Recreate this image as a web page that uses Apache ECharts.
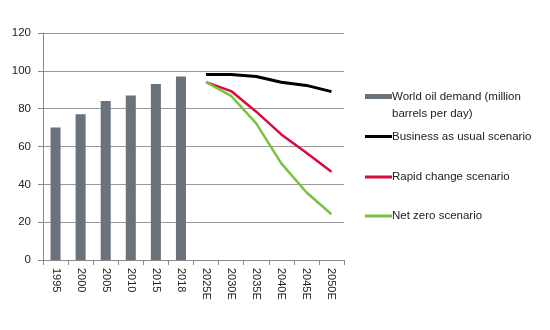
<!DOCTYPE html>
<html><head><meta charset="utf-8">
<script src="https://cdn.jsdelivr.net/npm/echarts@6/dist/echarts.min.js"></script>
<style>html,body{margin:0;padding:0;background:#fff}#c{width:550px;height:330px}</style>
</head><body><div id="c"></div>
<script>
const categories = ['1995','2000','2005','2010','2015','2018','2025E','2030E','2035E','2040E','2045E','2050E'];
const demand = [70, 77, 84, 87, 93, 97, null, null, null, null, null, null];
const businessAsUsual = [null, null, null, null, null, null, 98, 98, 97, 94, 92.3, 89];
const rapidChange = [null, null, null, null, null, null, 94, 89.3, 78.4, 66.4, 56.7, 46.7];
const netZero = [null, null, null, null, null, null, 94, 86.8, 72.2, 51.1, 35.8, 24.2];
const yTicks = {min: 0, max: 120, interval: 20};
const names = ['World oil demand (million\nbarrels per day)', 'Business as usual scenario', 'Rapid change scenario', 'Net zero scenario'];

const font = 'Liberation Sans';
const colors = ['#6a737b', '#000000', '#dc0a3c', '#7cc142'];
const legendTops = [66, 123, 163.5, 202.5];
const chart = echarts.init(document.getElementById('c'));
const legends = names.map((n, i) => ({
  left: 360, top: legendTops[i], orient: 'vertical',
  data: [{name: n, icon: 'rect'}],
  formatter: i === 0 ? (s => ' \n' + s) : (s => s),
  itemWidth: 27, itemHeight: i === 0 ? 5 : 3,
  textStyle: {fontFamily: font, fontSize: 11.5, color: '#222', lineHeight: 17, padding: [0, 0, 0, -5]}
}));
chart.setOption({
  animation: false,
  grid: {left: 43, right: 206, top: 33, bottom: 70},
  legend: legends,
  xAxis: {
    type: 'category', data: categories, boundaryGap: true,
    axisLine: {lineStyle: {color: '#888', width: 1}},
    axisTick: {show: true, length: 5, lineStyle: {color: '#888'}},
    axisLabel: {rotate: -90, fontFamily: font, fontSize: 11, color: '#222', margin: 8}
  },
  yAxis: {
    type: 'value', min: yTicks.min, max: yTicks.max, interval: yTicks.interval,
    axisLine: {show: true, lineStyle: {color: '#888'}},
    axisTick: {show: true, length: 5, lineStyle: {color: '#888'}},
    splitLine: {lineStyle: {color: '#999', width: 1}},
    axisLabel: {fontFamily: font, fontSize: 11.5, color: '#222', margin: 12}
  },
  series: [
    {name: names[0], type: 'bar', data: demand, barWidth: '40%', itemStyle: {color: colors[0]}},
    {name: names[1], type: 'line', data: businessAsUsual, symbol: 'none', lineStyle: {color: colors[1], width: 3}, itemStyle: {color: colors[1]}},
    {name: names[2], type: 'line', data: rapidChange, symbol: 'none', lineStyle: {color: colors[2], width: 2.5}, itemStyle: {color: colors[2]}},
    {name: names[3], type: 'line', data: netZero, symbol: 'none', lineStyle: {color: colors[3], width: 2.5}, itemStyle: {color: colors[3]}}
  ]
});
</script></body></html>
